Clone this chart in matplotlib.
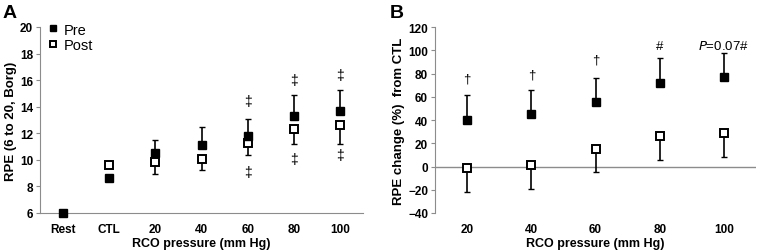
import numpy as np
import matplotlib.pyplot as plt

plt.rcParams['font.family'] = ['Liberation Sans', 'DejaVu Sans']

# panel A: absolute RPE
cats_a = ["Rest", "CTL", "20", "40", "60", "80", "100"]
pre_a = [6.0, 8.6, 10.5, 11.1, 11.8, 13.3, 13.7]
post_a = [6.0, 9.6, 9.85, 10.1, 11.25, 12.3, 12.6]
pre_a_err = [0, 0, 1.0, 1.35, 1.3, 1.55, 1.55]
post_a_err = [0, 0, 0.9, 0.85, 0.85, 1.1, 1.4]
sig_a_up = [None, None, None, None, 14.45, 16.0, 16.4]
sig_a_dn = [None, None, None, None, 9.05, 10.05, 10.35]

# panel B: change from CTL
cats_b = ["20", "40", "60", "80", "100"]
pre_b = [40.1, 45.3, 55.1, 72.0, 76.6]
post_b = [-1.3, 1.0, 15.4, 26.6, 28.9]
pre_b_err = [21.0, 20.7, 21.3, 21.3, 21.3]
post_b_err = [20.4, 20.1, 20.4, 20.7, 20.7]
sig_b = ["\u2020", "\u2020", "\u2020", "#", "$\\mathit{P}$=0.07#"]
sig_b_y = [75.5, 79.0, 92.0, 103.3, 104.3]

gray = '#8c8c8c'
fig = plt.figure(figsize=(7.6, 2.51), dpi=100)
axA = fig.add_axes([40/760, 1-214/251, 323/760, 186/251])
axB = fig.add_axes([435/760, 1-214/251, 321/760, 186/251])

# ---- A ----
xa = np.arange(len(cats_a))
axA.errorbar(xa[2:], pre_a[2:], yerr=[np.zeros(5), pre_a_err[2:]], fmt='none',
             ecolor='black', elinewidth=1.2, capsize=2.5, capthick=1.0, zorder=2)
axA.errorbar(xa[2:], post_a[2:], yerr=[post_a_err[2:], np.zeros(5)], fmt='none',
             ecolor='black', elinewidth=1.2, capsize=2.5, capthick=1.0, zorder=2)
axA.plot(xa[1:], post_a[1:], 's', ms=6, mfc='white', mec='black', mew=1.4,
         ls='none', label='Post', zorder=3, clip_on=False)
axA.plot(xa, pre_a, 's', ms=6, mfc='black', mec='black', ls='none',
         label='Pre', zorder=4, clip_on=False)
for i in range(len(cats_a)):
    if sig_a_up[i] is not None:
        axA.text(xa[i], sig_a_up[i], "\u2021", ha='center', va='center', fontsize=10)
        axA.text(xa[i], sig_a_dn[i], "\u2021", ha='center', va='center', fontsize=10)
axA.set_xlim(-0.5, 6.5)
axA.set_ylim(6, 20)
axA.set_yticks(np.arange(6, 21, 2))
axA.set_xticks(xa)
axA.set_xticklabels(cats_a)
axA.set_ylabel("RPE (6 to 20, Borg)", fontsize=9.5, fontweight='bold', labelpad=2)
axA.set_xlabel("RCO pressure (mm Hg)", fontsize=9, fontweight='bold', labelpad=2)
h, l = axA.get_legend_handles_labels()
leg = axA.legend(h[::-1], l[::-1], loc='upper left', bbox_to_anchor=(0.01, 1.055),
                 frameon=False, fontsize=10.5, handlelength=0.6, handletextpad=0.4,
                 labelspacing=0.1, borderaxespad=0, markerscale=0.7)
axA.text(-0.115, 1.03, "A", transform=axA.transAxes, fontsize=14, fontweight='bold',
         ha='left', va='bottom')

# ---- B ----
xb = np.arange(len(cats_b))
axB.axhline(0, color=gray, lw=1.0, zorder=1)
axB.errorbar(xb, pre_b, yerr=[np.zeros(5), pre_b_err], fmt='none', ecolor='black',
             elinewidth=1.2, capsize=2.5, capthick=1.0, zorder=2)
axB.errorbar(xb, post_b, yerr=[post_b_err, np.zeros(5)], fmt='none', ecolor='black',
             elinewidth=1.2, capsize=2.5, capthick=1.0, zorder=2)
axB.plot(xb, pre_b, 's', ms=6, mfc='black', mec='black', ls='none', zorder=4)
axB.plot(xb, post_b, 's', ms=6, mfc='white', mec='black', mew=1.4, ls='none', zorder=3)
for i in range(len(cats_b)):
    axB.text(xb[i], sig_b_y[i], sig_b[i], ha='center', va='center', fontsize=9.5)
axB.set_xlim(-0.5, 4.5)
axB.set_ylim(-40, 120)
axB.set_yticks(np.arange(-40, 121, 20))
axB.set_xticks(xb)
axB.set_xticklabels(cats_b)
axB.set_ylabel("RPE change (%)  from CTL", fontsize=9.5, fontweight='bold', labelpad=2)
axB.set_xlabel("RCO pressure (mm Hg)", fontsize=9, fontweight='bold', labelpad=2)
axB.text(-0.14, 1.03, "B", transform=axB.transAxes, fontsize=14, fontweight='bold',
         ha='left', va='bottom')

for ax in (axA, axB):
    ax.spines['top'].set_visible(False)
    ax.spines['right'].set_visible(False)
    ax.spines['left'].set_color(gray)
    ax.spines['bottom'].set_color(gray)
    ax.tick_params(axis='y', direction='out', length=3, color=gray, labelsize=8.5, pad=2)
    ax.tick_params(axis='x', length=0, labelsize=8.5, pad=7)
    for t in ax.get_xticklabels() + ax.get_yticklabels():
        t.set_fontweight('bold')
axB.spines['bottom'].set_visible(False)

fig.savefig("out.png", dpi=100)
